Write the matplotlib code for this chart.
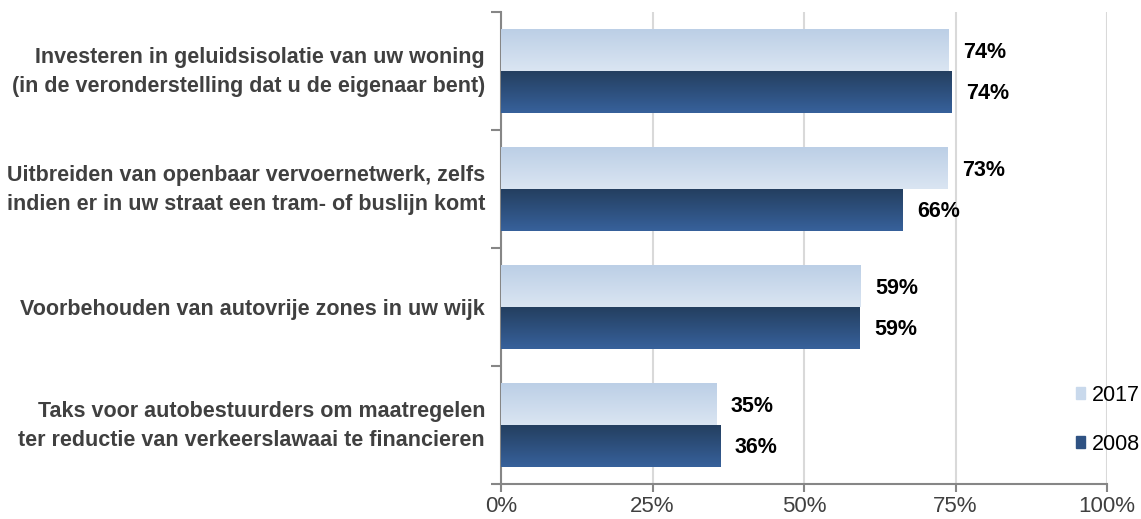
import matplotlib
matplotlib.use("Agg")
import matplotlib.pyplot as plt
import numpy as np
from matplotlib.colors import LinearSegmentedColormap
from matplotlib.transforms import ScaledTranslation

plt.rcParams['font.family'] = ['Liberation Sans', 'DejaVu Sans']

categories = [
    "Investeren in geluidsisolatie van uw woning\n(in de veronderstelling dat u de eigenaar bent)",
    "Uitbreiden van openbaar vervoernetwerk, zelfs\nindien er in uw straat een tram- of buslijn komt",
    "Voorbehouden van autovrije zones in uw wijk",
    "Taks voor autobestuurders om maatregelen\nter reductie van verkeerslawaai te financieren",
]
series_names = ["2017", "2008"]
vals_2017 = [73.9, 73.7, 59.3, 35.5]
vals_2008 = [74.3, 66.2, 59.2, 36.2]
labels_2017 = ["74%", "73%", "59%", "35%"]
labels_2008 = ["74%", "66%", "59%", "36%"]
xticks = [0, 25, 50, 75, 100]
xticklabels = ["0%", "25%", "50%", "75%", "100%"]

W, H = 1141, 519
fig = plt.figure(figsize=(W / 100, H / 100), dpi=100)
ax = fig.add_axes([501 / W, 1 - 484 / H, (1107 - 501) / W, (484 - 12) / H])

y = np.arange(len(categories))
h = 0.352
off = 0.176
light_top, light_bot = "#bccfe6", "#dae5f2"
dark_top, dark_bot = "#243f60", "#37619b"

b1 = ax.barh(y - off, vals_2017, height=h, color="#c9d9ec", label=series_names[0], zorder=3)
b2 = ax.barh(y + off, vals_2008, height=h, color="#2f5283", label=series_names[1], zorder=3)

def gradient(bars, top, bot):
    cmap = LinearSegmentedColormap.from_list("g", [top, bot])
    grad = np.linspace(0, 1, 64).reshape(-1, 1)
    for p in bars:
        x0, y0 = p.get_x(), p.get_y()
        w_, h_ = p.get_width(), p.get_height()
        im = ax.imshow(grad, cmap=cmap, aspect="auto",
                       extent=[x0, x0 + w_, y0 + h_, y0], origin="upper",
                       zorder=3.5, interpolation="bilinear")
        im.set_clip_path(p)

gradient(b1, light_top, light_bot)
gradient(b2, dark_top, dark_bot)

for bars, labs in ((b1, labels_2017), (b2, labels_2008)):
    for p, lab in zip(bars, labs):
        ax.annotate(lab, (p.get_width(), p.get_y() + p.get_height() / 2),
                    xytext=(10.5, -1.5), textcoords="offset points",
                    ha="left", va="center", fontsize=15.5, fontweight="bold",
                    color="black", zorder=5)

ax.set_xlim(0, 100)
ax.set_ylim(len(categories) - 0.5, -0.5)

ax.set_xticks(xticks)
ax.set_xticklabels(xticklabels, fontsize=16, color="#404040")
ax.tick_params(axis="x", length=6, width=1.5, color="#868686", pad=3)
ax.xaxis.grid(True, color="#d9d9d9", linewidth=1.5, zorder=0)
ax.set_axisbelow(True)

ax.set_yticks(y)
ax.set_yticklabels(categories, fontsize=15.5, fontweight="bold", color="#404040",
                   linespacing=1.5)
ax.tick_params(axis="y", which="major", length=0, pad=11.5)
ax.set_yticks(np.arange(len(categories) + 1) - 0.5, minor=True)
ax.tick_params(axis="y", which="minor", length=7, width=1.5, color="#868686")
for lbl in ax.get_yticklabels():
    if "\n" in lbl.get_text():
        lbl.set_transform(lbl.get_transform() +
                          ScaledTranslation(0, 5.5 / 100, fig.dpi_scale_trans))

for s in ("top", "right"):
    ax.spines[s].set_visible(False)
for s in ("left", "bottom"):
    ax.spines[s].set_color("#868686")
    ax.spines[s].set_linewidth(1.5)

leg = fig.legend(handles=[b1, b2], labels=series_names, loc="upper left",
                 bbox_to_anchor=(1065 / W, 1 - 374 / H), frameon=False,
                 fontsize=15.5, handlelength=0.45, handleheight=0.45,
                 handletextpad=0.3, labelspacing=1.3, borderpad=0)
leg.legend_handles[0].set_color("#c9d9ec")
leg.legend_handles[1].set_color("#2f5283")

fig.savefig("out.png", dpi=100)
